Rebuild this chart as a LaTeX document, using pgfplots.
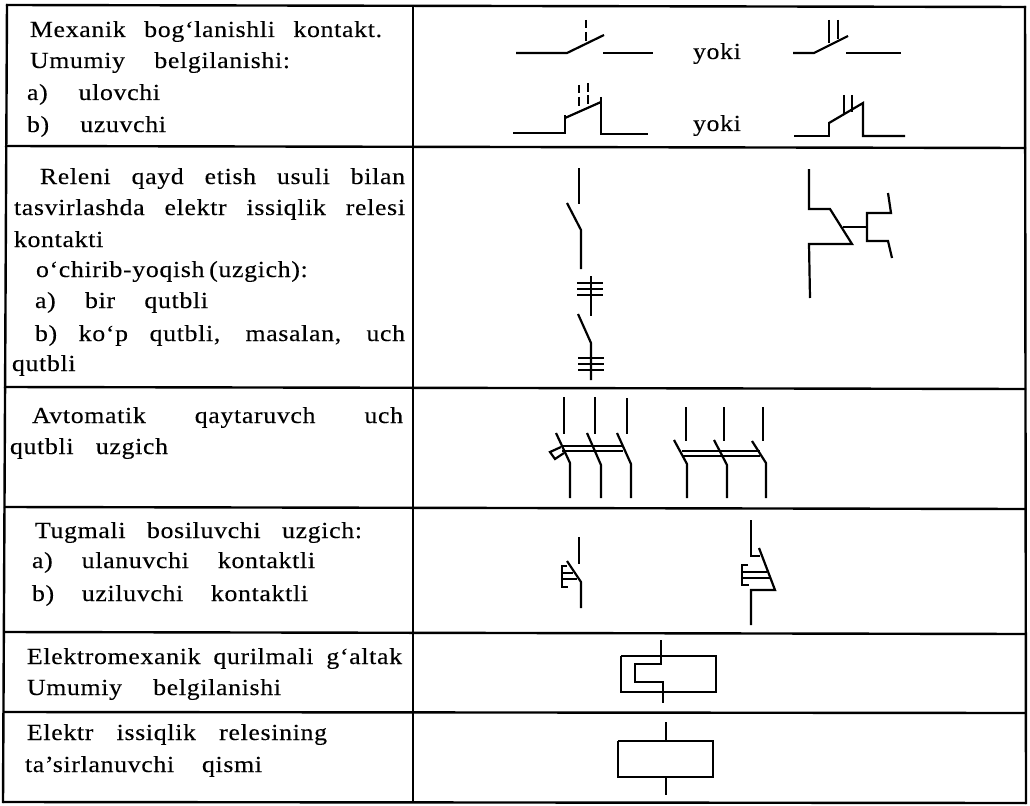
\documentclass[border=0pt]{standalone}
\usepackage{pgfplots}
\pgfplotsset{compat=1.18}
\usepackage{fontspec}
\setmainfont[LetterSpace=3,FakeStretch=1.12,FakeBold=0.25]{Liberation Serif}
\newcommand{\seg}[1]{\addplot[black,line width=2.2pt,line join=miter,forget plot] coordinates {#1};}
\newcommand{\rul}[1]{\addplot[black,line width=2.4pt,forget plot] coordinates {#1};}
\newcommand{\tl}[4]{\node[anchor=base west,inner sep=0pt,outer sep=0pt,font=\fontsize{23}{25}\selectfont] at (axis cs:#1,#2) {\makebox[#3pt][s]{#4}};}
\begin{document}
\begin{tikzpicture}
\begin{axis}[hide axis,scale only axis,width=1030pt,height=805pt,
  xmin=0,xmax=1030,ymin=0,ymax=805,y dir=reverse,clip=false]
\path (axis cs:0,0) rectangle (axis cs:1030,805);
% table rules
\rul{(6,5) (1026,7)}
\rul{(5,146) (1026,148)}
\rul{(4,387) (1026,389)}
\rul{(4,507) (1026,509)}
\rul{(4,632) (1026,634)}
\rul{(4,712) (1026,713)}
\rul{(3,802) (1026,803)}
\rul{(7,4) (3,803)}
\rul{(413,5) (413,803)}
\rul{(1025,6) (1026,804)}
% row 1 symbols
\seg{(516,53) (567,53) (604,35)}
\seg{(603,53) (653,53)}
\seg{(586,20) (586,28)}
\seg{(586,32) (586,41)}
\seg{(793,53) (814,53) (848,36)}
\seg{(846,53) (901,53)}
\seg{(829,20) (829,43)}
\seg{(838,20) (838,39)}
\seg{(513,133) (565,133) (565,115)}
\seg{(565,118) (601,102)}
\seg{(601,97) (601,134) (648,134)}
\seg{(579,85) (579,93)}
\seg{(579,97) (579,106)}
\seg{(588,83) (588,92)}
\seg{(588,95) (588,104)}
\seg{(794,136) (829,136) (829,122)}
\seg{(829,123) (863,103) (863,136) (905,136)}
\seg{(844,95) (844,115)}
\seg{(852,95) (852,112)}
% row 2 symbols
\seg{(579,168) (579,204)}
\seg{(567,203) (581,230) (581,269)}
\seg{(591,276) (591,316)}
\seg{(577,283) (603,283)}
\seg{(577,289) (603,289)}
\seg{(577,295) (603,295)}
\seg{(578,314) (591,343) (591,380)}
\seg{(578,358) (604,358)}
\seg{(578,364) (604,364)}
\seg{(578,370) (604,370)}
\seg{(809,169) (809,209) (830,209) (852,244) (809,244) (810,298)}
\seg{(843,227) (867,227)}
\seg{(888,193) (891,213) (867,213) (867,241) (888,241) (892,258)}
% row 3 symbols
\seg{(564,397) (564,434)}
\seg{(595,397) (595,434)}
\seg{(627,398) (627,434)}
\seg{(556,433) (570,463) (570,498)}
\seg{(587,433) (601,465) (601,498)}
\seg{(617,433) (631,464) (631,498)}
\seg{(562,446) (623,446)}
\seg{(562,451) (623,451)}
\seg{(561,447) (550,452) (555,459) (564,453)}
\seg{(686,407) (686,441)}
\seg{(724,407) (724,441)}
\seg{(763,407) (763,441)}
\seg{(674,440) (687,464) (687,498)}
\seg{(714,440) (727,465) (727,498)}
\seg{(752,441) (766,463) (766,498)}
\seg{(682,451) (760,451)}
\seg{(682,456) (760,456)}
% row 4 symbols
\seg{(579,537) (579,564)}
\seg{(567,561) (581,582) (581,608)}
\seg{(567,566) (562,566) (562,587) (568,587)}
\seg{(562,573) (573,573)}
\seg{(562,579) (577,579)}
\seg{(751,520) (751,556) (760,556)}
\seg{(759,548) (775,590) (751,590) (751,625)}
\seg{(748,565) (742,565) (742,585) (749,585)}
\seg{(742,572) (767,572)}
\seg{(742,578) (771,578)}
% row 5 symbol
\seg{(661,640) (661,664) (635,664) (635,682) (663,682) (663,703)}
\seg{(621,656) (716,656) (716,692) (621,692) (621,656)}
% row 6 symbol
\seg{(666,722) (666,741)}
\seg{(618,741) (713,741) (713,777) (618,777) (618,741)}
\seg{(666,777) (666,795)}
% text
\tl{30}{37}{352}{Mexanik bog‘lanishli kontakt.}
\tl{30}{68}{260}{Umumiy belgilanishi:}
\tl{27}{100}{133}{a) ulovchi}
\tl{27}{132}{139}{b) uzuvchi}
\tl{40}{184}{365}{Releni qayd etish usuli bilan}
\tl{14}{215}{391}{tasvirlashda elektr issiqlik relesi}
\tl{14}{247}{93}{kontakti}
\tl{36}{277}{269}{o‘chirib-yoqish (uzgich):}
\tl{35}{308}{173}{a) bir qutbli}
\tl{35}{341}{370}{b) ko‘p qutbli, masalan, uch}
\tl{12}{371}{64}{qutbli}
\tl{32}{423}{371}{Avtomatik qaytaruvch uch}
\tl{10}{454}{158}{qutbli uzgich}
\tl{35}{538}{327}{Tugmali bosiluvchi uzgich:}
\tl{32}{568}{283}{a) ulanuvchi kontaktli}
\tl{32}{601}{276}{b) uziluvchi kontaktli}
\tl{27}{664}{375}{Elektromexanik qurilmali g‘altak}
\tl{27}{695}{254}{Umumiy belgilanishi}
\tl{27}{740}{300}{Elektr issiqlik relesining}
\tl{25}{772}{237}{ta’sirlanuvchi qismi}
\tl{693}{59}{49}{yoki}
\tl{693}{131}{49}{yoki}
\end{axis}
\end{tikzpicture}
\end{document}
